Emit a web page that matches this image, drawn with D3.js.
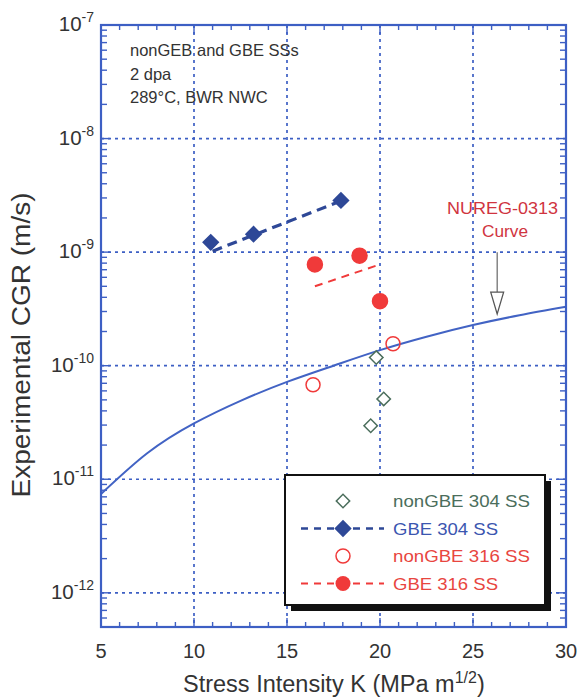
<!DOCTYPE html>
<html>
<head>
<meta charset="utf-8">
<script src="https://cdn.jsdelivr.net/npm/d3@7"></script>
<style>
  html, body { margin: 0; padding: 0; background: #fff; }
  svg { display: block; font-family: Arial, "Liberation Sans", sans-serif; }
</style>
</head>
<body>
<svg id="chart" width="580" height="700"></svg>
<script>
// Axis ticks
const kTicks = [5, 10, 15, 20, 25, 30];
const cgrExponents = [-7, -8, -9, -10, -11, -12];

// nonGBE 304 SS (open diamonds)
const nonGBE304K = [19.8, 20.2, 19.5];
const nonGBE304CGR = [1.18e-10, 5.1e-11, 2.96e-11];

// GBE 304 SS (filled diamonds) and its trend line
const GBE304K = [10.9, 13.2, 17.9];
const GBE304CGR = [1.22e-9, 1.44e-9, 2.85e-9];
const GBE304FitK = [11.0, 17.85];
const GBE304FitCGR = [1.02e-9, 2.8e-9];

// nonGBE 316 SS (open circles)
const nonGBE316K = [20.7, 16.4];
const nonGBE316CGR = [1.56e-10, 6.8e-11];

// GBE 316 SS (filled circles) and its trend line
const GBE316K = [16.5, 18.9, 20.0];
const GBE316CGR = [7.8e-10, 9.3e-10, 3.7e-10];
const GBE316FitK = [16.5, 20.0];
const GBE316FitCGR = [5.0e-10, 7.8e-10];

// NUREG-0313 disposition curve
const nuregK = [5, 7.5, 10, 12.5, 15, 17.5, 20, 22.5, 25, 27.5, 30];
const nuregCGR = [7.4e-12, 1.7e-11, 3.1e-11, 4.9e-11, 7.2e-11, 1.0e-10, 1.37e-10, 1.8e-10, 2.28e-10, 2.78e-10, 3.3e-10];

// Pointer from the curve label down to the curve
const arrowK = [26.3, 26.3];
const arrowCGR = [1.0e-9, 2.85e-10];

const legendLabels = ["nonGBE 304 SS", "GBE 304 SS", "nonGBE 316 SS", "GBE 316 SS"];
const noteLines = ["nonGEB and GBE SSs", "2 dpa", "289°C, BWR NWC"];

const C = {
  frame: "#3d5fc4",
  grid: "#3d5fc4",
  curve: "#4263c4",
  gbe304: "#2e4897",
  non304: "#4b6e5c",
  red: "#f03a3a",
  redText: "#e8463f",
  nureg: "#d0343f",
  text: "#333"
};

const svg = d3.select("#chart");
const m = { left: 101, right: 566, top: 25, bottom: 627 };

const x = d3.scaleLinear().domain([5, 30]).range([m.left, m.right]);
const y = d3.scaleLog().domain([5e-13, 1e-7]).range([m.bottom, m.top]);

const zip = (a, b) => a.map((v, i) => [v, b[i]]);

// Dotted grid at major ticks
const gGrid = svg.append("g").attr("stroke", C.grid).attr("stroke-width", 1.7)
  .attr("stroke-dasharray", "3,4");
kTicks.slice(1, -1).forEach(k => {
  gGrid.append("line").attr("x1", x(k)).attr("x2", x(k)).attr("y1", m.top).attr("y2", m.bottom);
});
cgrExponents.slice(1).forEach(e => {
  gGrid.append("line").attr("x1", m.left).attr("x2", m.right).attr("y1", y(Math.pow(10, e))).attr("y2", y(Math.pow(10, e)));
});

// Ticks on all four sides, pointing inward
const minorK = d3.range(5, 31, 1);
const minorY = [];
for (let e = -13; e < -7; e++) for (let j = 1; j < 10; j++) {
  const v = j * Math.pow(10, e);
  if (v >= 5e-13 && v <= 1e-7) minorY.push(v);
}
const gTicks = svg.append("g").attr("stroke", C.frame).attr("stroke-width", 1.4);
minorK.forEach(k => {
  const len = k % 5 === 0 ? 9 : 5;
  gTicks.append("line").attr("x1", x(k)).attr("x2", x(k)).attr("y1", m.bottom).attr("y2", m.bottom - len);
  gTicks.append("line").attr("x1", x(k)).attr("x2", x(k)).attr("y1", m.top).attr("y2", m.top + len);
});
minorY.forEach(v => {
  const major = Math.abs(Math.log10(v) - Math.round(Math.log10(v))) < 1e-9;
  const len = major ? 9 : 6;
  gTicks.append("line").attr("y1", y(v)).attr("y2", y(v)).attr("x1", m.left).attr("x2", m.left + len);
  gTicks.append("line").attr("y1", y(v)).attr("y2", y(v)).attr("x1", m.right).attr("x2", m.right - len);
});

// NUREG-0313 curve
const line = d3.line().x(d => x(d[0])).y(d => y(d[1]));
svg.append("path").datum(zip(nuregK, nuregCGR))
  .attr("d", line.curve(d3.curveNatural))
  .attr("fill", "none").attr("stroke", C.curve).attr("stroke-width", 2);
line.curve(d3.curveLinear);

// Trend lines
svg.append("path").datum(zip(GBE304FitK, GBE304FitCGR)).attr("d", line)
  .attr("fill", "none").attr("stroke", C.gbe304).attr("stroke-width", 3.2).attr("stroke-dasharray", "10,6");
svg.append("path").datum(zip(GBE316FitK, GBE316FitCGR)).attr("d", line)
  .attr("fill", "none").attr("stroke", C.red).attr("stroke-width", 2).attr("stroke-dasharray", "8,6");

// Markers: diamonds are squares turned 45 degrees
const square = d3.symbol().type(d3.symbolSquare);
function diamonds(K, V, fill, stroke, size) {
  svg.append("g").selectAll("path").data(zip(K, V)).join("path")
    .attr("transform", d => `translate(${x(d[0])},${y(d[1])}) rotate(45)`)
    .attr("d", square.size(size)())
    .attr("fill", fill).attr("stroke", stroke).attr("stroke-width", 1.5);
}
function circles(K, V, fill, stroke, r) {
  svg.append("g").selectAll("circle").data(zip(K, V)).join("circle")
    .attr("cx", d => x(d[0])).attr("cy", d => y(d[1])).attr("r", r)
    .attr("fill", fill).attr("stroke", stroke).attr("stroke-width", 1.5);
}
diamonds(nonGBE304K, nonGBE304CGR, "#fff", C.non304, 90);
diamonds(GBE304K, GBE304CGR, C.gbe304, C.gbe304, 115);
circles(nonGBE316K, nonGBE316CGR, "none", C.red, 7);
circles(GBE316K, GBE316CGR, C.red, C.red, 7.5);

// Pointer arrow to the curve
const ax = x(arrowK[0]), ay0 = y(arrowCGR[0]), ay1 = y(arrowCGR[1]);
svg.append("line").attr("x1", ax).attr("x2", ax).attr("y1", ay0).attr("y2", ay1 - 20)
  .attr("stroke", "#666").attr("stroke-width", 1.2);
svg.append("path")
  .attr("d", `M${ax - 6.5},${ay1 - 22} L${ax + 6.5},${ay1 - 22} L${ax},${ay1} Z`)
  .attr("fill", "#fff").attr("stroke", "#555").attr("stroke-width", 1.2);

svg.append("text").attr("x", 447).attr("y", y(2.16e-9))
  .attr("fill", C.nureg).attr("font-size", 17).attr("textLength", 111)
  .attr("lengthAdjust", "spacingAndGlyphs").text("NUREG-0313");
svg.append("text").attr("x", 482).attr("y", y(1.35e-9))
  .attr("fill", C.nureg).attr("font-size", 17).attr("textLength", 46)
  .attr("lengthAdjust", "spacingAndGlyphs").text("Curve");

// Frame
svg.append("rect").attr("x", m.left).attr("y", m.top)
  .attr("width", m.right - m.left).attr("height", m.bottom - m.top)
  .attr("fill", "none").attr("stroke", C.frame).attr("stroke-width", 2.2);

// Notes in the upper left
svg.append("g").selectAll("text").data(noteLines).join("text")
  .attr("x", 130).attr("y", (d, i) => 56 + i * 23.5)
  .attr("font-size", 16.5).attr("fill", C.text).text(d => d);

// Tick labels
svg.append("g").selectAll("text").data(kTicks).join("text")
  .attr("x", d => x(d)).attr("y", 658).attr("text-anchor", "middle")
  .attr("font-size", 20).attr("fill", C.text).text(d => d);

const yl = svg.append("g").selectAll("text").data(cgrExponents).join("text")
  .attr("x", 94).attr("y", d => y(Math.pow(10, d)) + 6).attr("text-anchor", "end")
  .attr("font-size", 20.5).attr("fill", C.text);
yl.append("tspan").text("10");
yl.append("tspan").attr("dy", -9).attr("font-size", 14).text(d => d);

// Axis titles
const xt = svg.append("text").attr("x", 183).attr("y", 692)
  .attr("font-size", 23.5).attr("fill", C.text);
xt.append("tspan").text("Stress Intensity K (MPa m");
xt.append("tspan").attr("dy", -9).attr("font-size", 16).text("1/2");
xt.append("tspan").attr("dy", 9).text(")");

svg.append("text").attr("transform", `translate(30,345) rotate(-90)`)
  .attr("text-anchor", "middle").attr("font-size", 25).attr("fill", C.text)
  .attr("textLength", 305).attr("lengthAdjust", "spacingAndGlyphs")
  .text("Experimental CGR (m/s)");

// Legend with drop shadow
const lg = { x: 285, y: 475, w: 260, h: 130 };
svg.append("rect").attr("x", lg.x + 6).attr("y", lg.y + 6).attr("width", lg.w).attr("height", lg.h).attr("fill", "#111");
svg.append("rect").attr("x", lg.x).attr("y", lg.y).attr("width", lg.w).attr("height", lg.h)
  .attr("fill", "#fff").attr("stroke", "#111").attr("stroke-width", 2);

const rowY = [501, 528.5, 556, 583.5];
const legendColors = [C.non304, "#3b56b0", C.redText, C.redText];
const legendWidths = [137, 105, 137, 105];
const mx = 343, lx1 = 301, lx2 = 384;
// dashed keys for the GBE rows
[[1, C.gbe304, 2.5], [3, C.red, 1.8]].forEach(([i, c, w]) => {
  svg.append("line").attr("x1", lx1).attr("x2", lx2).attr("y1", rowY[i]).attr("y2", rowY[i])
    .attr("stroke", c).attr("stroke-width", w).attr("stroke-dasharray", "7,6");
});
svg.append("path").attr("transform", `translate(${mx},${rowY[0]}) rotate(45)`).attr("d", square.size(90)())
  .attr("fill", "#fff").attr("stroke", C.non304).attr("stroke-width", 1.5);
svg.append("path").attr("transform", `translate(${mx},${rowY[1]}) rotate(45)`).attr("d", square.size(115)())
  .attr("fill", C.gbe304).attr("stroke", C.gbe304).attr("stroke-width", 1.5);
svg.append("circle").attr("cx", mx).attr("cy", rowY[2]).attr("r", 7)
  .attr("fill", "#fff").attr("stroke", C.red).attr("stroke-width", 1.5);
svg.append("circle").attr("cx", mx).attr("cy", rowY[3]).attr("r", 7.5).attr("fill", C.red);

svg.append("g").selectAll("text").data(legendLabels).join("text")
  .attr("x", 393).attr("y", (d, i) => rowY[i] + 6)
  .attr("font-size", 17).attr("textLength", (d, i) => legendWidths[i])
  .attr("lengthAdjust", "spacingAndGlyphs")
  .attr("fill", (d, i) => legendColors[i]).text(d => d);
</script>
</body>
</html>
